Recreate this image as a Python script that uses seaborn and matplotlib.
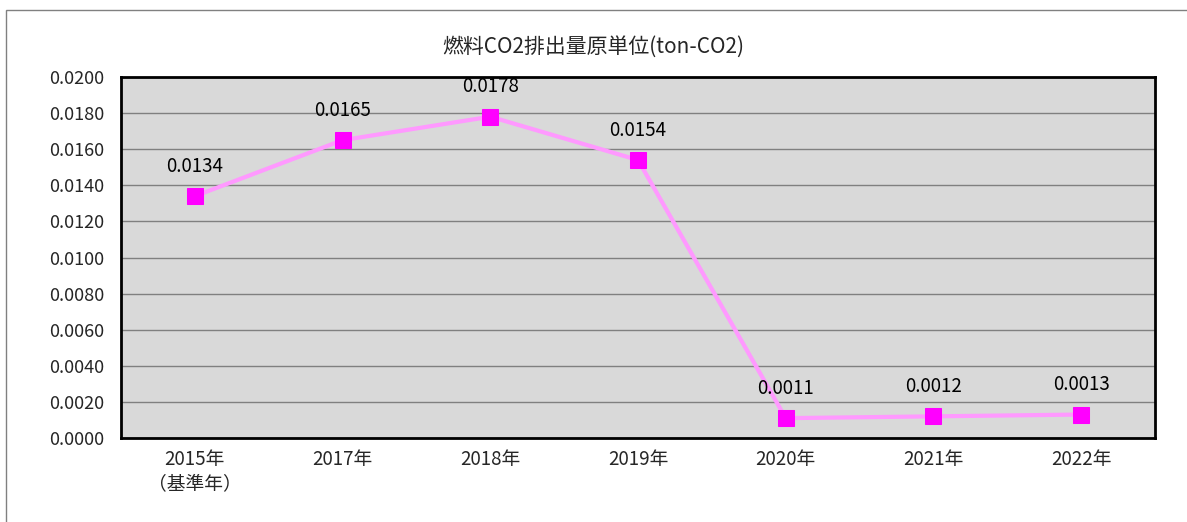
import matplotlib
matplotlib.use("Agg")
import matplotlib.pyplot as plt
import seaborn as sns
import pandas as pd
from matplotlib.patches import Rectangle
from matplotlib.ticker import FixedLocator

# data
years = ["2015年\n（基準年）", "2017年", "2018年", "2019年", "2020年", "2021年", "2022年"]
values = [0.0134, 0.0165, 0.0178, 0.0154, 0.0011, 0.0012, 0.0013]
title = "燃料CO2排出量原単位(ton-CO2)"

df = pd.DataFrame({"year": years, "value": values})

sns.set_style("white")
plt.rcParams["font.family"] = ["Noto Sans CJK JP", "DejaVu Sans"]

fig = plt.figure(figsize=(11.87, 5.22), dpi=100)
ax = fig.add_axes([0.1019, 0.1609, 0.8712, 0.6916])
ax.set_facecolor("#D9D9D9")

sns.lineplot(data=df, x="year", y="value", ax=ax, color="#FF99FF", linewidth=3,
             marker="s", markersize=11, markerfacecolor="#FF00FF",
             markeredgecolor="#FF00FF", sort=False, zorder=3)

# value labels above the points
for i, v in enumerate(values):
    ax.annotate(f"{v:.4f}", (i, v), xytext=(0, 14), textcoords="offset points",
                ha="center", va="bottom", fontsize=13.5, color="black")

ax.set_ylim(0, 0.02)
ax.set_xlim(-0.5, len(years) - 0.5)
ax.set_yticks([i * 0.002 for i in range(11)])
ax.set_yticklabels([f"{i * 0.002:.4f}" for i in range(11)], fontsize=13)
ax.yaxis.grid(True, color="#808080", linewidth=1)
ax.set_axisbelow(True)
ax.tick_params(axis="y", length=0, pad=12)
ax.tick_params(axis="x", which="major", length=0, pad=8, labelsize=13.5)
ax.xaxis.set_minor_locator(FixedLocator([i + 0.5 for i in range(len(years) - 1)]))
ax.tick_params(axis="x", which="minor", direction="in", length=4, width=1, color="#555555")
for s in ax.spines.values():
    s.set_visible(True)
    s.set_color("black")
    s.set_linewidth(2)
ax.set_xlabel("")
ax.set_ylabel("")

fig.text(0.5, 0.91, title, ha="center", va="center", fontsize=15)

# outer chart frame
fig.patches.append(Rectangle((6 / 1187, -0.05), 1.05, 1 - 10 / 522 + 0.05,
                             transform=fig.transFigure, fill=False,
                             edgecolor="#808080", linewidth=1))

fig.savefig("out.png", dpi=100)
